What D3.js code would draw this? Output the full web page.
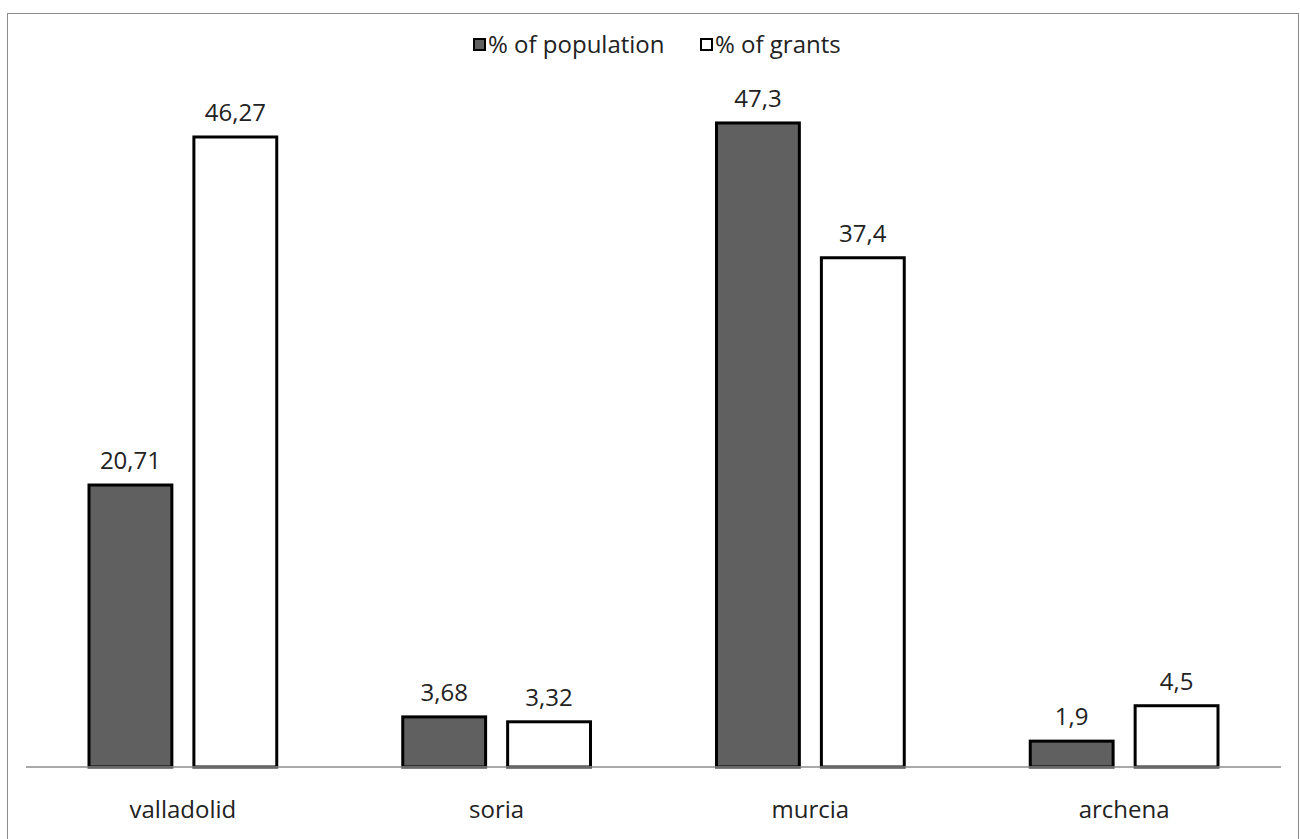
<!DOCTYPE html>
<html>
<head>
<meta charset="utf-8">
<script src="https://cdn.jsdelivr.net/npm/d3@7"></script>
<style>
  html, body { margin: 0; padding: 0; background: #fff; }
  svg { display: block; }
  text { font-family: "Open Sans", "Noto Sans", sans-serif; fill: #222; }
</style>
</head>
<body>
<svg id="chart" width="1300" height="839"></svg>
<script>
// Share of population vs. share of grants by city
const categories = ["valladolid", "soria", "murcia", "archena"];
const seriesNames = ["% of population", "% of grants"];
const population = [20.71, 3.68, 47.3, 1.9];
const grants = [46.27, 3.32, 37.4, 4.5];
const populationLabels = ["20,71", "3,68", "47,3", "1,9"];
const grantsLabels = ["46,27", "3,32", "37,4", "4,5"];

const fills = ["#606060", "#ffffff"];
const svg = d3.select("#chart");
const W = 1300, H = 839;
const FONT = 24;

// outer frame
svg.append("rect")
  .attr("x", 7.5).attr("y", 13.5)
  .attr("width", W - 9).attr("height", H)
  .attr("fill", "#fff").attr("stroke", "#8c8c8c").attr("stroke-width", 1);

const left = 26, right = 1281, baseline = 767;
const x0 = d3.scaleBand().domain(categories).range([left, right]).paddingInner(0).paddingOuter(0);
const x1 = d3.scaleBand().domain(seriesNames).range([63, x0.bandwidth() - 63]).paddingInner(0.21);
const y = d3.scaleLinear().domain([0, 50]).range([baseline, baseline - 50 * 13.616]);

const rows = categories.map((c, i) => ({
  cat: c,
  vals: [
    { s: seriesNames[0], v: population[i], label: populationLabels[i], fill: fills[0] },
    { s: seriesNames[1], v: grants[i], label: grantsLabels[i], fill: fills[1] }
  ]
}));

const groups = svg.append("g").selectAll("g").data(rows).join("g")
  .attr("transform", d => `translate(${x0(d.cat)},0)`);

groups.selectAll("rect").data(d => d.vals).join("rect")
  .attr("x", d => x1(d.s))
  .attr("y", d => y(d.v))
  .attr("width", x1.bandwidth())
  .attr("height", d => baseline - y(d.v))
  .attr("fill", d => d.fill)
  .attr("stroke", "#000")
  .attr("stroke-width", 3);

groups.selectAll("text").data(d => d.vals).join("text")
  .attr("x", d => x1(d.s) + x1.bandwidth() / 2)
  .attr("y", d => y(d.v) - 16)
  .attr("text-anchor", "middle")
  .attr("font-size", FONT)
  .text(d => d.label);

// category axis
const axis = svg.append("g").attr("transform", `translate(0,${baseline})`)
  .call(d3.axisBottom(x0).tickSize(0).tickPadding(33));
axis.select(".domain").attr("stroke", "#8c8c8c").attr("stroke-width", 1.5)
  .attr("d", `M${left},0H${right}`);
axis.selectAll("text").attr("font-size", FONT).attr("fill", "#222")
  .attr("dy", null).attr("y", 51)
  .attr("font-family", "\"Open Sans\", \"Noto Sans\", sans-serif");

// legend
const legend = svg.append("g").attr("transform", "translate(473,45)");
const items = [{ name: seriesNames[0], fill: fills[0], x: 0 }, { name: seriesNames[1], fill: fills[1], x: 227 }];
const li = legend.selectAll("g").data(items).join("g").attr("transform", d => `translate(${d.x},0)`);
li.append("rect").attr("x", 1).attr("y", -6).attr("width", 11).attr("height", 11)
  .attr("fill", d => d.fill).attr("stroke", "#000").attr("stroke-width", 2);
li.append("text").attr("x", 15).attr("y", 0).attr("dy", "0.35em").attr("font-size", FONT).text(d => d.name);
</script>
</body>
</html>
